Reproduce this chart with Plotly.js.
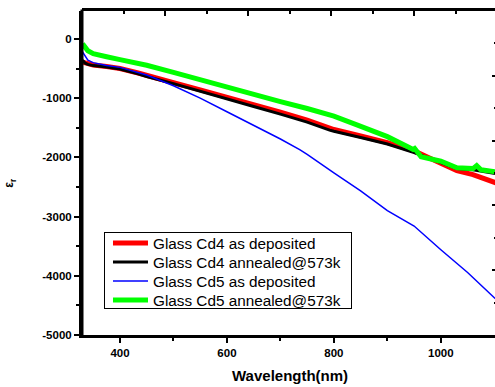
<!DOCTYPE html>
<html>
<head>
<meta charset="utf-8">
<script src="https://cdn.plot.ly/plotly-3.0.1.min.js"></script>
<style>
html,body{margin:0;padding:0;overflow:hidden;background:#fff;}
#chart{width:520px;height:387px;}
</style>
</head>
<body>
<div id="chart"></div>
<script>
var wlGreen = [330, 335, 340, 350, 360, 375, 400, 434, 450, 500, 550, 600, 624, 650, 700, 750, 792, 800, 843, 886, 900, 940, 948, 951, 955, 963, 1000, 1030, 1060, 1067, 1075, 1100, 1106];
var cd5Annealed = [-80, -150, -200, -250, -275, -300, -350, -410, -445, -565, -690, -810, -890, -945, -1060, -1175, -1280, -1305, -1450, -1600, -1650, -1830, -1865, -1850, -1900, -1990, -2065, -2175, -2190, -2140, -2210, -2245, -2250];

var wlRed = [330, 335, 340, 350, 375, 400, 434, 450, 500, 550, 600, 624, 650, 700, 750, 792, 800, 850, 886, 900, 950, 970, 992, 1030, 1060, 1080, 1100, 1106];
var cd4Deposited = [-390, -400, -420, -440, -465, -500, -575, -620, -740, -860, -980, -1045, -1105, -1235, -1370, -1505, -1530, -1640, -1715, -1750, -1890, -1975, -2085, -2225, -2290, -2350, -2420, -2440];

var wlBlack = [330, 335, 340, 350, 375, 400, 434, 450, 500, 550, 600, 624, 650, 700, 750, 792, 800, 850, 886, 900, 950, 960, 1000, 1030, 1060, 1080, 1100, 1106];
var cd4Annealed = [-360, -410, -430, -450, -475, -510, -590, -635, -755, -880, -1005, -1075, -1140, -1270, -1405, -1540, -1560, -1665, -1740, -1775, -1920, -1955, -2085, -2190, -2210, -2235, -2270, -2280];

var wlBlue = [330, 335, 340, 350, 360, 375, 400, 434, 450, 500, 550, 600, 650, 700, 736, 750, 800, 850, 900, 950, 1000, 1050, 1100, 1106];
var cd5Deposited = [-220, -300, -360, -400, -425, -450, -480, -560, -610, -790, -1000, -1230, -1460, -1690, -1870, -1950, -2260, -2565, -2900, -3160, -3560, -3945, -4370, -4420];

var seriesNames = ['Glass Cd4 as deposited', 'Glass Cd4 annealed@573k', 'Glass Cd5 as deposited', 'Glass Cd5 annealed@573k'];
var yTickVals = [0, -1000, -2000, -3000, -4000, -5000];
var yTickText = ['0', '-1000', '-2000', '-3000', '-4000', '-5000'];
var yMinorVals = [-500, -1500, -2500, -3500, -4500];
var xTickVals = [400, 600, 800, 1000];
var xTickText = ['400', '600', '800', '1000'];
var xMinorVals = [500, 700, 900];

var fam = 'Liberation Sans, Arial, sans-serif';

var traces = [
  {x: wlRed, y: cd4Deposited, name: seriesNames[0], mode: 'lines', line: {color: '#ff0000', width: 5}},
  {x: wlBlack, y: cd4Annealed, name: seriesNames[1], mode: 'lines', line: {color: '#000000', width: 3}},
  {x: wlBlue, y: cd5Deposited, name: seriesNames[2], mode: 'lines', line: {color: '#0000ff', width: 1.5}},
  {x: wlGreen, y: cd5Annealed, name: seriesNames[3], mode: 'lines', line: {color: '#00ff00', width: 5}},
  {x: [null], y: [null], xaxis: 'x2', yaxis: 'y2', showlegend: false, hoverinfo: 'skip', mode: 'lines'}
];

var layout = {
  width: 520, height: 387,
  margin: {l: 82, r: 23, t: 11, b: 52},
  paper_bgcolor: '#fff', plot_bgcolor: 'rgba(0,0,0,0)',
  showlegend: true,
  font: {family: fam, color: '#000'},
  xaxis: {
    range: [329, 1105], tickmode: 'array', tickvals: xTickVals, ticktext: xTickText,
    ticks: 'outside', ticklen: 5, tickwidth: 2, tickcolor: '#000',
    minor: {tickmode: 'array', tickvals: xMinorVals, ticks: 'outside', ticklen: 3, tickwidth: 2, tickcolor: '#000'},
    showline: true, linewidth: 3, linecolor: '#000', showgrid: false, zeroline: false,
    tickfont: {family: fam, size: 11.5, weight: 'bold'}
  },
  yaxis: {
    range: [-5000, 472], tickmode: 'array', tickvals: yTickVals, ticktext: yTickText,
    ticks: 'outside', ticklen: 5, tickwidth: 2, tickcolor: '#000',
    minor: {tickmode: 'array', tickvals: yMinorVals, ticks: 'outside', ticklen: 3, tickwidth: 2, tickcolor: '#000'},
    showline: true, linewidth: 3, linecolor: '#000', showgrid: false, zeroline: false,
    tickfont: {family: fam, size: 11.5, weight: 'bold'}
  },
  xaxis2: {
    side: 'top', anchor: 'y2', range: [0, 5], dtick: 1, tick0: 0,
    ticks: 'inside', ticklen: 5, tickwidth: 2, tickcolor: '#000', showticklabels: false,
    minor: {dtick: 0.5, ticks: 'inside', ticklen: 3, tickwidth: 2, tickcolor: '#000'},
    showline: true, linewidth: 3, linecolor: '#000', showgrid: false, zeroline: false
  },
  yaxis2: {
    side: 'right', anchor: 'x2', range: [0, 5], dtick: 1, tick0: 0,
    ticks: 'inside', ticklen: 5, tickwidth: 2, tickcolor: '#000', showticklabels: false,
    minor: {dtick: 0.5, ticks: 'inside', ticklen: 3, tickwidth: 2, tickcolor: '#000'},
    showline: true, linewidth: 3, linecolor: '#000', showgrid: false, zeroline: false
  },
  shapes: [
    // left frame edge of the plot box
    {type: 'line', xref: 'paper', yref: 'paper', x0: 0, x1: 0, y0: -0.005, y1: 1.005, layer: 'above',
     line: {color: '#000', width: 3}}
  ],
  legend: {
    x: 0.053, y: 0.318, xanchor: 'left', yanchor: 'top', itemwidth: 35,
    bgcolor: '#fff', bordercolor: '#000', borderwidth: 1,
    font: {family: fam, size: 15.3, color: '#000'}
  },
  annotations: [
    {text: 'Wavelength(nm)', xref: 'paper', yref: 'paper', x: 0.501, y: -0.1265, xanchor: 'center', yanchor: 'middle',
     showarrow: false, font: {family: fam, size: 15, weight: 'bold', color: '#000'}},
    {text: 'ε<sub>r</sub>', xref: 'paper', yref: 'paper', x: -0.1735, y: 0.47, xanchor: 'center', yanchor: 'middle',
     textangle: -90, showarrow: false, font: {family: fam, size: 12, weight: 'bold', color: '#000'}}
  ]
};

Plotly.newPlot('chart', traces, layout, {displayModeBar: false, staticPlot: true}).then(function (gd) {
  // tighten legend row spacing to match the reference
  var leg = gd.querySelector('.legend');
  if (!leg) return;
  var items = leg.querySelectorAll('.traces');
  for (var i = 0; i < items.length; i++) {
    items[i].setAttribute('transform', 'translate(4,' + (11 + i * 19) + ')');
  }
  var bg = leg.querySelector('rect.bg');
  if (bg) { bg.setAttribute('height', 76); bg.setAttribute('width', 247); }
});
</script>
</body>
</html>
